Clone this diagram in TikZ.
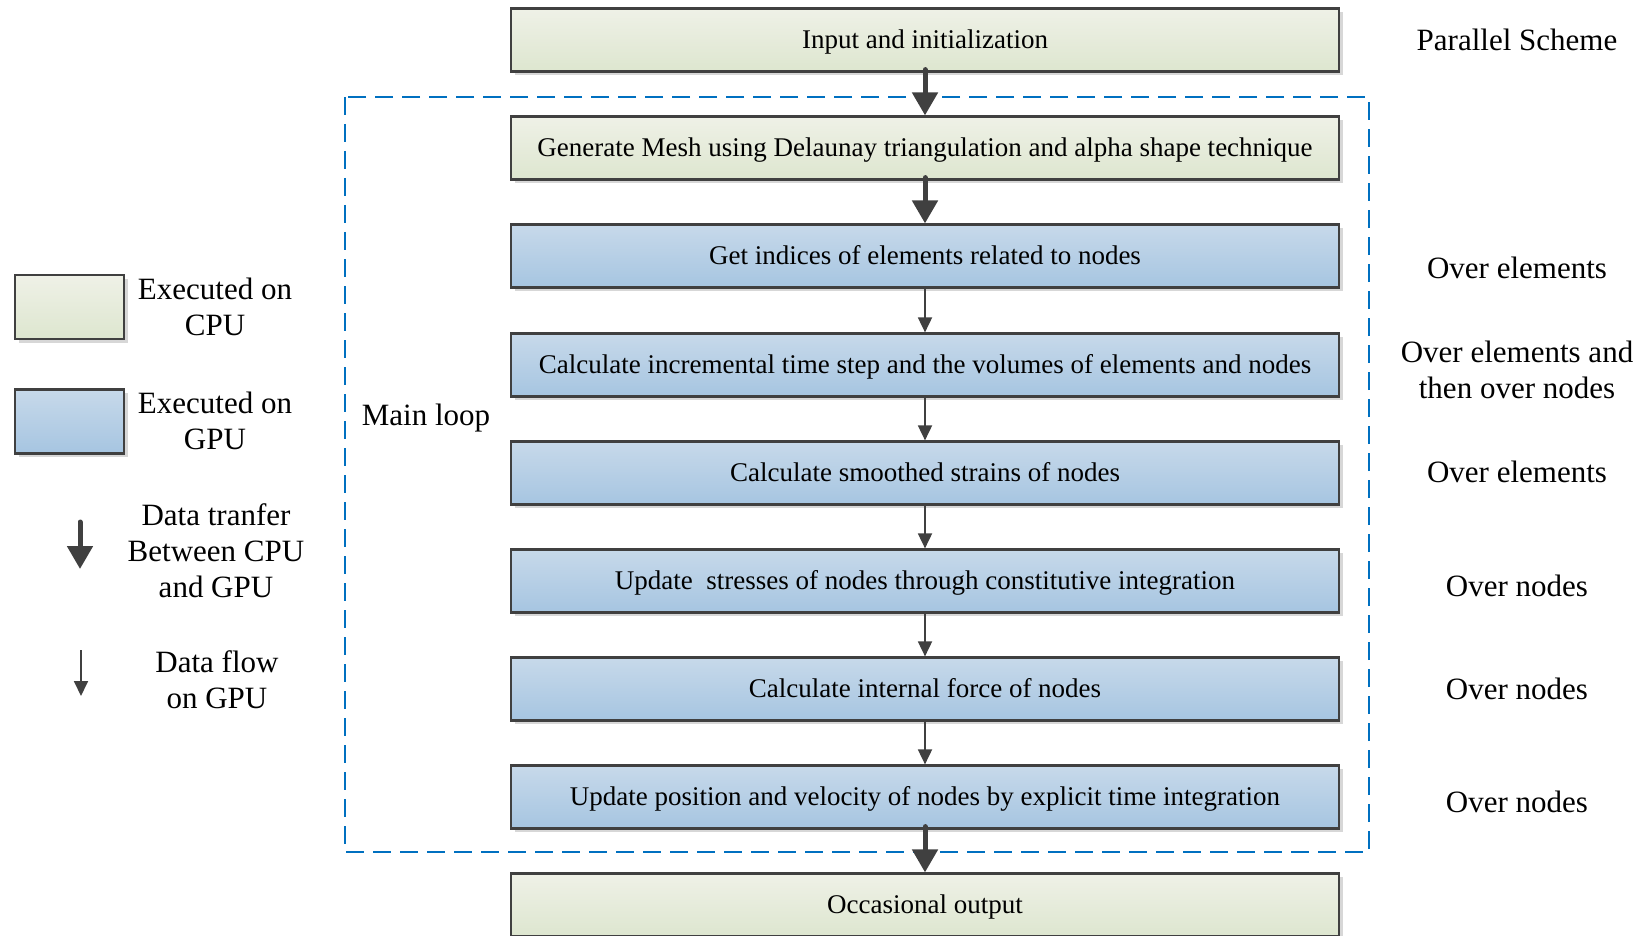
\documentclass[tikz,border=0pt]{standalone}
\usepackage{fontspec}
\setmainfont{Liberation Serif}
\usetikzlibrary{arrows.meta}
\definecolor{boxline}{RGB}{64,64,64}
\definecolor{cpuTop}{RGB}{239,241,231}
\definecolor{cpuBot}{RGB}{221,230,207}
\definecolor{gpuTop}{RGB}{199,217,234}
\definecolor{gpuBot}{RGB}{166,197,225}
\definecolor{loopblue}{RGB}{0,112,192}
\definecolor{shadowgray}{RGB}{215,215,215}
\tikzset{
  shadowed/.style={preaction={fill=shadowgray, transform canvas={shift={(3.5pt,-3.5pt)}}}},
  basebox/.style={shadowed, draw=boxline, line width=2.2pt, inner sep=0pt,
    font=\fontsize{27}{32}\selectfont},
  flowbox/.style={basebox, minimum width=828pt, minimum height=63pt,
    text height=19pt, text depth=2pt},
  cpubox/.style={top color=cpuTop, bottom color=cpuBot},
  gpubox/.style={top color=gpuTop, bottom color=gpuBot},
  xferarrow/.style={draw=boxline, line width=5pt, line cap=round,
    -{Triangle[width=25pt,length=23pt]}},
  flowarrow/.style={draw=boxline, line width=1.8pt,
    -{Triangle[width=14pt,length=15pt]}},
  sidelabel/.style={align=center, font=\fontsize{31}{36}\selectfont, inner sep=0pt},
  looprect/.style={draw=loopblue, line width=2.6pt, dash pattern=on 18pt off 9pt},
}
\begin{document}
\begin{tikzpicture}[x=1pt,y=-1pt]
\useasboundingbox (0,0) rectangle (1641,936);
\clip (0,0) rectangle (1641,936);

% main loop frame
\draw[looprect] (345,97) rectangle (1369,852);

% flow boxes
\node[flowbox,cpubox] (b1) at (925,40) {Input and initialization};
\node[flowbox,cpubox] (b2) at (925,148) {Generate Mesh using Delaunay triangulation and alpha shape technique};
\node[flowbox,gpubox] (b3) at (925,256) {Get indices of elements related to nodes};
\node[flowbox,gpubox] (b4) at (925,365) {Calculate incremental time step and the volumes of elements and nodes};
\node[flowbox,gpubox] (b5) at (925,473) {Calculate smoothed strains of nodes};
\node[flowbox,gpubox] (b6) at (925,581) {Update~ stresses of nodes through constitutive integration};
\node[flowbox,gpubox] (b7) at (925,689) {Calculate internal force of nodes};
\node[flowbox,gpubox] (b8) at (925,797) {Update position and velocity of nodes by explicit time integration};
\node[flowbox,cpubox] (b9) at (925,905) {Occasional output};

% connectors
\draw[xferarrow] ([yshift=3pt]b1.south) -- (b2.north);
\draw[xferarrow] ([yshift=3pt]b2.south) -- (b3.north);
\draw[flowarrow] (b3.south) -- (b4.north);
\draw[flowarrow] (b4.south) -- (b5.north);
\draw[flowarrow] (b5.south) -- (b6.north);
\draw[flowarrow] (b6.south) -- (b7.north);
\draw[flowarrow] (b7.south) -- (b8.north);
\draw[xferarrow] ([yshift=3pt]b8.south) -- (b9.north);

% right-hand labels
\node[sidelabel] (ps) at (1517,40) {Parallel Scheme};
\node[sidelabel] (s3) at (1517,268) {Over elements};
\node[sidelabel] (s4) at (1517,370) {Over elements and\\then over nodes};
\node[sidelabel] (s5) at (1517,472) {Over elements};
\node[sidelabel] (s6) at (1517,586) {Over nodes};
\node[sidelabel] (s7) at (1517,689) {Over nodes};
\node[sidelabel] (s8) at (1517,802) {Over nodes};

% main loop label
\node[sidelabel] (ml) at (426,418) {Main loop};

% legend
\node[basebox,cpubox,minimum width=109pt,minimum height=64pt] (lcpu) at (69.5,307) {};
\node[basebox,gpubox,minimum width=109pt,minimum height=64pt] (lgpu) at (69.5,421.5) {};
\node[sidelabel] (tcpu) at (215,307) {Executed on\\CPU};
\node[sidelabel] (tgpu) at (215,421) {Executed on\\GPU};
\coordinate (xa) at (80,522);
\coordinate (xb) at (80,569);
\draw[xferarrow] (xa) -- (xb);
\node[sidelabel] (txfer) at (216,551) {Data tranfer\\Between CPU\\and GPU};
\coordinate (fa) at (81,650);
\coordinate (fb) at (81,696);
\draw[flowarrow] (fa) -- (fb);
\node[sidelabel] (tflow) at (217,680) {Data flow\\on GPU};
\end{tikzpicture}
\end{document}
